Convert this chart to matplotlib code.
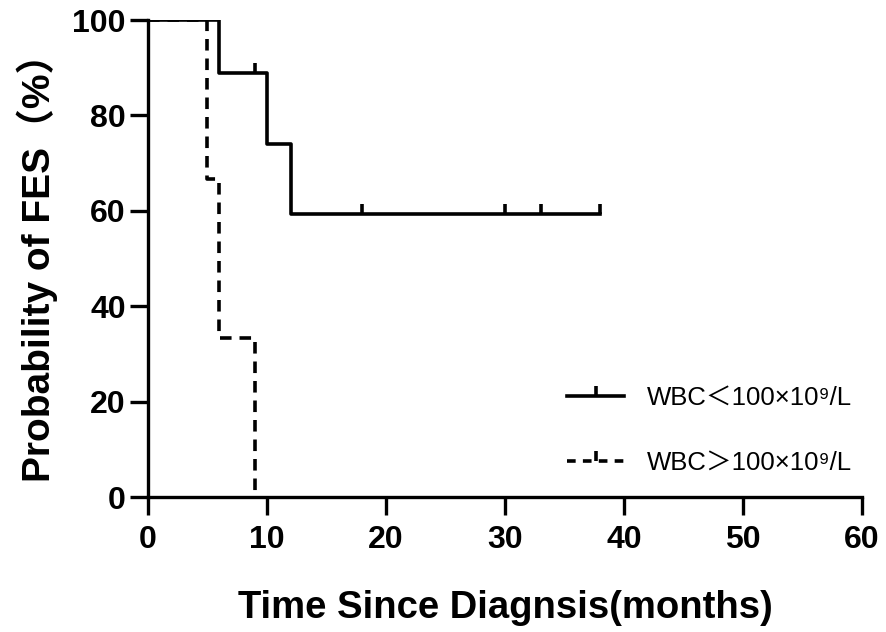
import matplotlib
matplotlib.use('Agg')
import matplotlib.pyplot as plt
from matplotlib.lines import Line2D

# Kaplan-Meier curves
low_times = [0, 6, 10, 12, 38]
low_surv = [100, 88.9, 74.1, 59.3, 59.3]
low_censor_t = [9, 18, 30, 33, 38]
low_censor_s = [88.9, 59.3, 59.3, 59.3, 59.3]

high_times = [0, 5, 6, 9]
high_surv = [100, 66.7, 33.3, 0]

labels = ['WBC\uff1c100\u00d710\u2079/L', 'WBC\uff1e100\u00d710\u2079/L']

plt.rcParams['font.family'] = ['Liberation Sans', 'Noto Sans CJK SC', 'DejaVu Sans']

fig = plt.figure(figsize=(8.86, 6.32), dpi=100)
ax = fig.add_axes([0.167, 0.2136, 0.806, 0.7546])

lw = 2.6
ax.step(high_times, high_surv, where='post', color='black', lw=lw,
        dashes=(3.2, 2.2), solid_capstyle='butt')
ax.step(low_times, low_surv, where='post', color='black', lw=lw)
ax.plot(low_censor_t, low_censor_s, ls='none', color='black',
        marker=2, markersize=7, markeredgewidth=2.6)

ax.set_xlim(0, 60)
ax.set_ylim(0, 100)
ax.set_xticks(range(0, 61, 10))
ax.set_yticks(range(0, 101, 20))

for side in ['top', 'right']:
    ax.spines[side].set_visible(False)
for side in ['left', 'bottom']:
    ax.spines[side].set_linewidth(2.4)
    ax.spines[side].set_clip_on(False)

ax.tick_params(axis='both', length=13, width=2.4, labelsize=23)
ax.tick_params(axis='x', pad=7)
ax.tick_params(axis='y', pad=3)
for t in ax.get_xticklabels() + ax.get_yticklabels():
    t.set_fontweight('bold')

ax.set_xlabel('Time Since Diagnsis(months)', fontsize=27.5, fontweight='bold', labelpad=25)
ax.set_ylabel('Probability of FES\uff08%\uff09', fontsize=28, fontweight='bold', labelpad=10)

handles = [
    Line2D([], [], color='black', lw=lw, marker=2, markersize=7, markeredgewidth=2.6),
    Line2D([], [], color='black', lw=lw, dashes=(2.4, 2.0), marker=2, markersize=7,
           markeredgewidth=2.6),
]
leg = ax.legend(handles, labels, loc='center left', bbox_to_anchor=(0.555, 0.14),
                frameon=False, numpoints=1, handlelength=2.2, handletextpad=0.9,
                labelspacing=1.6,
                prop={'family': ['Liberation Sans', 'Noto Sans CJK SC', 'DejaVu Sans'], 'size': 18.5})

fig.savefig('out.png', dpi=100)
